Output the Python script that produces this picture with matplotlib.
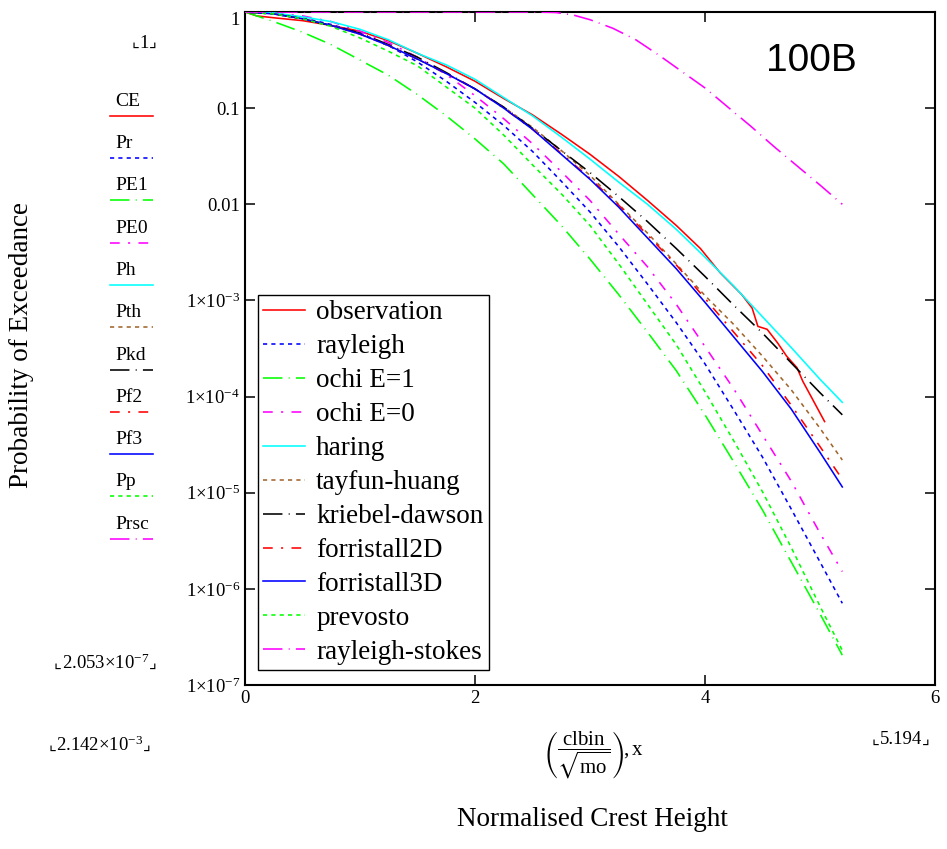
import matplotlib
matplotlib.use("Agg")
import matplotlib.pyplot as plt
import numpy as np
from matplotlib.lines import Line2D
from matplotlib.ticker import FixedLocator, FixedFormatter, NullLocator

plt.rcParams['font.family'] = ['Liberation Serif', 'DejaVu Sans']
plt.rcParams['mathtext.fontset'] = 'custom'
plt.rcParams['mathtext.rm'] = 'Liberation Serif'
plt.rcParams['mathtext.it'] = 'Liberation Serif:italic'
plt.rcParams['mathtext.bf'] = 'Liberation Serif:bold'
plt.rcParams['mathtext.fallback'] = 'stix'
plt.rcParams['lines.scale_dashes'] = False

# -----------------------------------------------------------------------
# DATA (exceedance probability stored as log10)
# -----------------------------------------------------------------------
x_model = [0.002, 0.25, 0.5, 0.75, 1.0, 1.25, 1.5, 1.75, 2.0, 2.25, 2.5,
           2.75, 3.0, 3.25, 3.5, 3.75, 4.0, 4.25, 4.5, 4.75, 5.0, 5.194]

rayleigh_log = [0, -0.02, -0.06, -0.13, -0.22, -0.35, -0.52, -0.72, -0.94, -1.18, -1.45,
                -1.76, -2.08, -2.44, -2.83, -3.23, -3.66, -4.14, -4.63, -5.17, -5.72, -6.15]
ochi1_log = [0, -0.10, -0.21, -0.34, -0.50, -0.66, -0.86, -1.08, -1.32, -1.58, -1.90,
             -2.22, -2.57, -2.94, -3.33, -3.73, -4.19, -4.68, -5.18, -5.72, -6.26, -6.69]
ochi0_log = [0, -0.01, -0.04, -0.10, -0.20, -0.32, -0.47, -0.65, -0.87, -1.11, -1.37,
             -1.66, -1.96, -2.31, -2.65, -3.04, -3.48, -3.92, -4.40, -4.88, -5.42, -5.82]
haring_log = [0, -0.01, -0.05, -0.10, -0.18, -0.29, -0.43, -0.55, -0.70, -0.89, -1.08,
              -1.30, -1.53, -1.77, -2.00, -2.26, -2.55, -2.85, -3.17, -3.49, -3.82, -4.06]
tayfun_log = [0, -0.02, -0.07, -0.14, -0.23, -0.35, -0.49, -0.64, -0.80, -0.99, -1.20,
              -1.44, -1.70, -2.00, -2.30, -2.62, -2.95, -3.25, -3.58, -3.93, -4.33, -4.66]
kriebel_log = [0, -0.02, -0.07, -0.14, -0.22, -0.34, -0.47, -0.63, -0.80, -0.99, -1.21,
               -1.44, -1.67, -1.92, -2.18, -2.46, -2.75, -3.05, -3.34, -3.65, -3.96, -4.19]
forr2d_log = [0, -0.02, -0.07, -0.14, -0.23, -0.35, -0.49, -0.64, -0.80, -1.00, -1.22,
              -1.47, -1.73, -2.01, -2.32, -2.63, -2.98, -3.33, -3.68, -4.09, -4.52, -4.86]
forr3d_log = [0, -0.02, -0.07, -0.14, -0.23, -0.35, -0.49, -0.64, -0.80, -1.00, -1.22,
              -1.48, -1.74, -2.03, -2.35, -2.67, -3.02, -3.38, -3.74, -4.13, -4.58, -4.94]
prevosto_log = [0, -0.02, -0.07, -0.15, -0.27, -0.41, -0.56, -0.78, -1.00, -1.28, -1.59,
                -1.89, -2.22, -2.62, -3.04, -3.46, -3.95, -4.46, -4.99, -5.57, -6.18, -6.64]

x_obs = [0.002, 0.1, 0.25, 0.5, 0.75, 1.0, 1.25, 1.5, 1.75, 2.0, 2.25, 2.5, 2.75, 3.0,
         3.25, 3.5, 3.75, 3.96, 4.13, 4.32, 4.41, 4.46, 4.54, 4.63, 4.71, 4.80, 4.85,
         4.90, 5.04]
obs_log = [0, -0.04, -0.06, -0.09, -0.14, -0.20, -0.30, -0.43, -0.57, -0.72, -0.90, -1.07,
           -1.27, -1.48, -1.71, -1.96, -2.22, -2.46, -2.71, -2.94, -3.08, -3.27, -3.30,
           -3.44, -3.58, -3.70, -3.84, -3.95, -4.26]

x_rs = [0.002, 2.5, 2.7, 2.85, 3.0, 3.2, 3.4, 3.6, 3.8, 4.0, 4.2, 4.4, 4.6, 4.8, 5.0, 5.194]
rs_log = [0, 0, -0.005, -0.03, -0.08, -0.17, -0.29, -0.45, -0.62, -0.79, -0.99, -1.19,
          -1.40, -1.60, -1.80, -2.00]

legend_labels = ["observation", "rayleigh", "ochi E=1", "ochi E=0", "haring",
                 "tayfun-huang", "kriebel-dawson", "forristall2D", "forristall3D",
                 "prevosto", "rayleigh-stokes"]
trace_names = ["CE", "Pr", "PE1", "PE0", "Ph", "Pth", "Pkd", "Pf2", "Pf3", "Pp", "Prsc"]

y_ticks = [1e-7, 1e-6, 1e-5, 1e-4, 1e-3, 1e-2, 1e-1, 1]
y_ticklabels = [r"$1{\times}10^{-7}$", r"$1{\times}10^{-6}$", r"$1{\times}10^{-5}$",
                r"$1{\times}10^{-4}$", r"$1{\times}10^{-3}$", "0.01", "0.1", "1"]
x_ticks = [0, 2, 4, 6]

# -----------------------------------------------------------------------
# STYLES
# -----------------------------------------------------------------------
SOLID = '-'
DOT = (0, (3, 3))
DADOT = (0, (14, 4.5, 0.7, 4.5))
DASH = (0, (7, 6, 1.5, 6))
BROWN = '#a0662a'
LW = 1.15

series = [
    (x_obs, obs_log, 'red', SOLID),
    (x_model, rayleigh_log, 'blue', DOT),
    (x_model, ochi1_log, '#00ff00', DADOT),
    (x_model, ochi0_log, 'magenta', DASH),
    (x_model, haring_log, 'cyan', SOLID),
    (x_model, tayfun_log, BROWN, DOT),
    (x_model, kriebel_log, 'black', DADOT),
    (x_model, forr2d_log, 'red', DASH),
    (x_model, forr3d_log, 'blue', SOLID),
    (x_model, prevosto_log, '#00ff00', DOT),
    (x_rs, rs_log, 'magenta', DADOT),
]

W, H = 947, 849
fig = plt.figure(figsize=(W / 100, H / 100), dpi=100)
ax = fig.add_axes([245 / W, 1 - 685 / H, 690 / W, 673 / H])

handles = []
for (xs, ls_log, col, sty), lab in zip(series, legend_labels):
    ln, = ax.plot(xs, 10.0 ** np.array(ls_log), color=col, linestyle=sty, lw=LW,
                  zorder=3, label=lab)
    handles.append(ln)

ax.set_yscale('log')
ax.set_xlim(0, 6)
ax.set_ylim(1e-7, 1)
ax.yaxis.set_major_locator(FixedLocator(y_ticks))
ax.yaxis.set_major_formatter(FixedFormatter(y_ticklabels))
ax.yaxis.set_minor_locator(NullLocator())
ax.set_xticks(x_ticks)
ax.set_xticklabels([str(v) for v in x_ticks])
ax.tick_params(which='major', direction='in', length=7, width=1.1, top=True,
               right=True, labelsize=13.5, pad=3.5, colors='black')
for sp in ax.spines.values():
    sp.set_linewidth(1.5)
ax.yaxis.get_major_ticks()[-1].label1.set_va('top')

leg = ax.legend(handles=handles, loc='upper left',
                bbox_to_anchor=(258 / W, 1 - 295 / H), bbox_transform=fig.transFigure,
                borderaxespad=0, fontsize=19.5, frameon=True, fancybox=False,
                edgecolor='black', framealpha=1, handlelength=1.55,
                handletextpad=0.4, labelspacing=0.33, borderpad=0.2)
leg.get_frame().set_linewidth(1.0)
leg.set_zorder(5)

ax.text(811 / W, 1 - 61 / H, "100B", transform=fig.transFigure, ha='center',
        va='center', fontsize=28, family='Liberation Sans')

# left-hand trace list (Mathcad style)
lax = fig.add_axes([0, 0, 1, 1], zorder=-1)
lax.set_xlim(0, W)
lax.set_ylim(H, 0)
lax.axis('off')
for i, ((xs, ls_log, col, sty), name) in enumerate(zip(series, trace_names)):
    yl = 115.7 + 42.3 * i
    lax.add_line(Line2D([110, 153], [yl, yl], color=col, linestyle=sty, lw=LW))
    lax.text(115, yl - 10, name, fontsize=14, ha='left', va='baseline')


def limit_label(x, y, s, ha):
    # Mathcad range marker: value framed by little corner brackets
    t = lax.text(x, y, s, fontsize=13.5, ha=ha, va='center')
    lax.annotate("⌞", xy=(0, 0.02), xycoords=t, ha='right', va='bottom',
                 fontsize=12, family='DejaVu Sans')
    lax.annotate("⌟", xy=(1, 0.02), xycoords=t, ha='left', va='bottom',
                 fontsize=12, family='DejaVu Sans')


limit_label(144, 43, "1", 'center')
limit_label(149, 663, r"$2.053{\times}10^{-7}$", 'right')
limit_label(56, 745, r"$2.142{\times}10^{-3}$", 'left')
limit_label(922, 740, "5.194", 'right')

lax.text(593, 755, r"$\left(\dfrac{\mathrm{clbin}}{\sqrt{\mathrm{mo}}}\right)\!,\mathrm{x}$",
         fontsize=15, ha='center', va='center')
lax.text(592, 820, "Normalised Crest Height", fontsize=19.5, ha='center', va='center')
lax.text(22, 345, "Probability of Exceedance", fontsize=19.5, ha='center',
         va='center', rotation=90)

fig.savefig("out.png", dpi=100, facecolor='white')
